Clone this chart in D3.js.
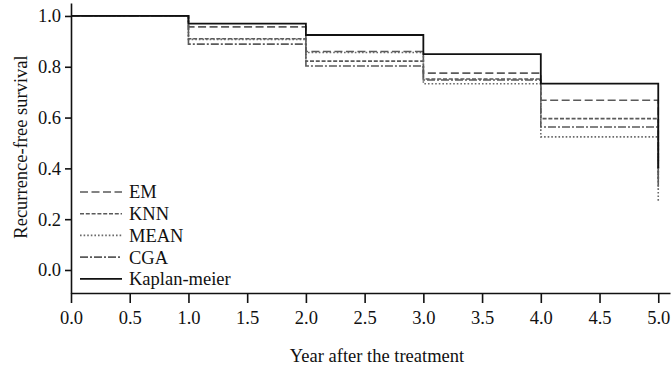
<!DOCTYPE html>
<html>
<head>
<meta charset="utf-8">
<script src="https://cdn.jsdelivr.net/npm/d3@7"></script>
<style>
  body { margin: 0; background: #fff; }
  svg { display: block; font-family: "Liberation Serif", "DejaVu Serif", serif; }
</style>
</head>
<body>
<div id="chart"></div>
<script>
// years where the curves step
const years = [0, 1, 2, 3, 4, 5]
const emVals = [1, 0.957, 0.86, 0.775, 0.668, 0.36]
const knnVals = [1, 0.91, 0.822, 0.752, 0.596, 0.32]
const meanVals = [1, 0.908, 0.856, 0.733, 0.524, 0.265]
const cgaVals = [1, 0.889, 0.803, 0.748, 0.563, 0.34]
const kmVals = [1, 0.97, 0.925, 0.85, 0.734, 0.40]
const seriesNames = ["EM", "KNN", "MEAN", "CGA", "Kaplan-meier"]
const xTicks = [0, 0.5, 1, 1.5, 2, 2.5, 3, 3.5, 4, 4.5, 5]
const yTicks = [0, 0.2, 0.4, 0.6, 0.8, 1.0]

const w = 672
const h = 366
const fs = "18.5px"
const svg = d3.select("#chart").append("svg").attr("width", w).attr("height", h)

const x = d3.scaleLinear().domain([0, 5.1]).range([71, 670])
const y = d3.scaleLinear().domain([-0.0906, 1.051]).range([293, 3])

// styles for every series
const styles = {
  "EM": { clr: "#5a5a5a", dash: "8,3.5", width: 1.6 },
  "KNN": { clr: "#5a5a5a", dash: "4,1.8", width: 1.6 },
  "MEAN": { clr: "#6a6a6a", dash: "1.6,2", width: 1.6 },
  "CGA": { clr: "#5a5a5a", dash: "8,2,2,2", width: 1.6 },
  "Kaplan-meier": { clr: "#111", dash: null, width: 1.8 }
}
const allVals = { "EM": emVals, "KNN": knnVals, "MEAN": meanVals, "CGA": cgaVals, "Kaplan-meier": kmVals }

const line = d3.line()
  .x(d => x(d[0]))
  .y(d => y(d[1]))
  .curve(d3.curveStepAfter)

seriesNames.forEach((name) => {
  const pts = years.map((yr, i) => [yr, allVals[name][i]])
  const st = styles[name]
  svg.append("path")
    .attr("d", line(pts))
    .attr("fill", "none")
    .attr("stroke", st.clr)
    .attr("stroke-width", st.width)
    .attr("stroke-dasharray", st.dash)
})

// axes
const xAxis = svg.append("g")
  .attr("transform", `translate(0,${y(-0.0906)})`)
  .call(d3.axisBottom(x).tickValues(xTicks).tickFormat(d3.format(".1f")).tickSize(10).tickSizeOuter(0))
const yAxis = svg.append("g")
  .attr("transform", `translate(${x(0)},0)`)
  .call(d3.axisLeft(y).tickValues(yTicks).tickFormat(d3.format(".1f")).tickSize(6).tickSizeOuter(0))

;[xAxis, yAxis].forEach((g) => {
  g.select(".domain").attr("stroke", "#111").attr("stroke-width", 1.6)
  g.selectAll(".tick line").attr("stroke", "#111").attr("stroke-width", 1.6)
  g.selectAll(".tick text")
    .attr("fill", "#111")
    .style("font-family", "'Liberation Serif', serif")
    .style("font-size", fs)
})
xAxis.selectAll(".tick text").attr("y", 14).attr("dy", "0.9em")
yAxis.selectAll(".tick text").attr("x", -10).attr("dy", "0.32em")

svg.append("text")
  .attr("x", 377).attr("y", 362)
  .attr("text-anchor", "middle")
  .style("font-size", fs).attr("fill", "#111")
  .text("Year after the treatment")

svg.append("text")
  .attr("transform", "translate(27,147) rotate(-90)")
  .attr("text-anchor", "middle")
  .style("font-size", fs).attr("fill", "#111")
  .text("Recurrence-free survival")

// legend
const legend = svg.append("g")
seriesNames.forEach((name, i) => {
  const st = styles[name]
  const ly = 192 + i * 21.7
  legend.append("line")
    .attr("x1", 80).attr("x2", 122)
    .attr("y1", ly).attr("y2", ly)
    .attr("stroke", st.clr)
    .attr("stroke-width", st.width)
    .attr("stroke-dasharray", st.dash)
  legend.append("text")
    .attr("x", 129).attr("y", ly)
    .attr("dy", "0.35em")
    .style("font-size", fs).attr("fill", "#111")
    .text(name)
})
</script>
</body>
</html>
